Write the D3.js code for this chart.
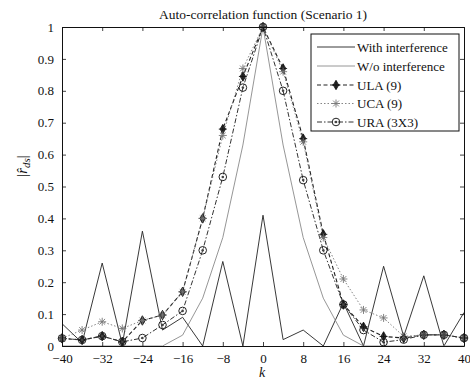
<!DOCTYPE html>
<html>
<head>
<meta charset="utf-8">
<script src="https://cdn.jsdelivr.net/npm/d3@7"></script>
<style>
  html, body { margin: 0; padding: 0; background: #fff; }
  svg { display: block; }
  text { font-family: "Liberation Serif", "DejaVu Serif", serif; fill: #111; }
</style>
</head>
<body>
<svg id="chart" width="470" height="383"></svg>
<script>
// Lag index k (step 4)
const lags = [-40, -36, -32, -28, -24, -20, -16, -12, -8, -4, 0, 4, 8, 12, 16, 20, 24, 28, 32, 36, 40];

// |r_ds| for each case
const withInterference = [0.07, 0.01, 0.26, 0.005, 0.36, 0.05, 0.09, 0.0, 0.265, 0.0, 0.41, 0.02, 0.05, 0.0, 0.135, 0.0, 0.25, 0.03, 0.22, 0.0, 0.105];
const withoutInterference = [0.0, 0.0, 0.0, 0.0, 0.0, 0.0, 0.034, 0.15, 0.34, 0.63, 1.0, 0.63, 0.34, 0.15, 0.034, 0.0, 0.0, 0.0, 0.0, 0.0, 0.0];
const ula9 = [0.024, 0.019, 0.031, 0.013, 0.08, 0.097, 0.17, 0.40, 0.68, 0.845, 1.0, 0.87, 0.65, 0.35, 0.13, 0.06, 0.03, 0.025, 0.035, 0.035, 0.025];
const uca9 = [0.024, 0.05, 0.076, 0.055, 0.08, 0.097, 0.17, 0.40, 0.66, 0.87, 1.0, 0.86, 0.64, 0.34, 0.21, 0.113, 0.088, 0.03, 0.035, 0.035, 0.025];
const ura3x3 = [0.024, 0.019, 0.031, 0.013, 0.025, 0.066, 0.11, 0.30, 0.53, 0.81, 1.0, 0.80, 0.52, 0.30, 0.13, 0.05, 0.012, 0.02, 0.035, 0.035, 0.025];

const xTicks = [-40, -32, -24, -16, -8, 0, 8, 16, 24, 32, 40];
const yTicks = [0, 0.1, 0.2, 0.3, 0.4, 0.5, 0.6, 0.7, 0.8, 0.9, 1];

const titleText = "Auto-correlation function (Scenario 1)";
const legendLabels = ["With interference", "W/o interference", "ULA (9)", "UCA (9)", "URA (3X3)"];

const serif = "'Liberation Serif', 'DejaVu Serif', serif";
const svg = d3.select("#chart");
const L = 62, R = 464, T = 27, B = 346;

const x = d3.scaleLinear().domain([-40, 40]).range([L, R]);
const y = d3.scaleLinear().domain([0, 1]).range([B, T]);

// series definitions: style + marker
const series = [
  { name: legendLabels[0], values: withInterference, color: "#222", width: 0.9, dash: null, marker: null },
  { name: legendLabels[1], values: withoutInterference, color: "#8a8a8a", width: 0.9, dash: null, marker: null },
  { name: legendLabels[2], values: ula9, color: "#222", width: 1.1, dash: "4,2.5", marker: "diamond" },
  { name: legendLabels[3], values: uca9, color: "#777", width: 0.9, dash: "1.5,2", marker: "asterisk" },
  { name: legendLabels[4], values: ura3x3, color: "#333", width: 1.0, dash: "5,2,1.5,2", marker: "circle" }
];

const line = d3.line().x(d => x(d[0])).y(d => y(d[1]));

const plot = svg.append("g");

// lines
series.forEach(s => {
  const pts = lags.map((k, i) => [k, s.values[i]]);
  plot.append("path")
    .datum(pts)
    .attr("d", line)
    .attr("fill", "none")
    .attr("stroke", s.color)
    .attr("stroke-width", s.width)
    .attr("stroke-dasharray", s.dash);
});

function drawMarker(g, type, cx, cy, color) {
  if (type === "diamond") {
    g.append("path")
      .attr("d", d3.symbol().type(d3.symbolDiamond).size(26)())
      .attr("transform", `translate(${cx},${cy})`)
      .attr("fill", "#333").attr("stroke", "#111").attr("stroke-width", 0.8);
    g.append("path")
      .attr("d", `M${cx - 4},${cy}H${cx + 4}M${cx},${cy - 4}V${cy + 4}`)
      .attr("stroke", "#111").attr("stroke-width", 0.9);
  } else if (type === "asterisk") {
    const r = 4, d = r * 0.72;
    g.append("path")
      .attr("d", `M${cx - r},${cy}H${cx + r}M${cx},${cy - r}V${cy + r}M${cx - d},${cy - d}L${cx + d},${cy + d}M${cx - d},${cy + d}L${cx + d},${cy - d}`)
      .attr("stroke", color).attr("stroke-width", 0.9).attr("fill", "none");
  } else if (type === "circle") {
    g.append("circle").attr("cx", cx).attr("cy", cy).attr("r", 3.8)
      .attr("fill", "none").attr("stroke", "#222").attr("stroke-width", 1);
    g.append("circle").attr("cx", cx).attr("cy", cy).attr("r", 1.3)
      .attr("fill", "#444");
  }
}

// markers
series.filter(s => s.marker).forEach(s => {
  const g = plot.append("g");
  lags.forEach((k, i) => drawMarker(g, s.marker, x(k), y(s.values[i]), s.color));
});

// axes box with inward ticks on all sides
const axG = svg.append("g");
const tickLen = 4;
const fmtY = d => d3.format("")(+d.toFixed(1));
axG.append("g").attr("transform", `translate(0,${B})`)
  .call(d3.axisBottom(x).tickValues(xTicks).tickSizeInner(-tickLen).tickSizeOuter(0).tickPadding(8).tickFormat(d3.format("d")));
axG.append("g").attr("transform", `translate(0,${T})`)
  .call(d3.axisTop(x).tickValues(xTicks).tickSizeInner(-tickLen).tickSizeOuter(0).tickFormat(""));
axG.append("g").attr("transform", `translate(${L},0)`)
  .call(d3.axisLeft(y).tickValues(yTicks).tickSizeInner(-tickLen).tickSizeOuter(0).tickPadding(8).tickFormat(fmtY));
axG.append("g").attr("transform", `translate(${R},0)`)
  .call(d3.axisRight(y).tickValues(yTicks).tickSizeInner(-tickLen).tickSizeOuter(0).tickFormat(""));
axG.selectAll("g").attr("font-family", serif).attr("font-size", 13);
axG.selectAll(".domain").attr("stroke", "#111").attr("stroke-width", 1);
axG.selectAll(".tick line").attr("stroke", "#111").attr("stroke-width", 0.8);
axG.selectAll(".tick text")
  .style("font-family", serif)
  .style("font-size", "13px")
  .attr("fill", "#111");

// title
svg.append("text").attr("x", (L + R) / 2).attr("y", 19)
  .attr("text-anchor", "middle").style("font-size", "13.5px").text(titleText);

// x label
svg.append("text").attr("x", (L + R) / 2 - 1).attr("y", 377)
  .attr("text-anchor", "middle").style("font-size", "14px").style("font-style", "italic").text("k");

// y label |r̂_ds|
const yl = svg.append("text")
  .attr("transform", `translate(27,166) rotate(-90)`)
  .attr("text-anchor", "middle").style("font-size", "15px");
yl.append("tspan").text("|");
yl.append("tspan").style("font-style", "italic").text("r\u0302");
yl.append("tspan").style("font-style", "italic").style("font-size", "11px").attr("dy", 3).text("ds");
yl.append("tspan").attr("dy", -3).text("|");

// legend
const lg = svg.append("g");
const lgX = 311, lgY = 34, lgW = 148, lgH = 97;
lg.append("rect").attr("x", lgX).attr("y", lgY).attr("width", lgW).attr("height", lgH)
  .attr("fill", "#fff").attr("stroke", "#111").attr("stroke-width", 1);
const rowY = [47, 66, 85, 103.5, 122];
series.forEach((s, i) => {
  const yy = rowY[i];
  lg.append("line").attr("x1", lgX + 6).attr("x2", lgX + 44).attr("y1", yy).attr("y2", yy)
    .attr("stroke", s.color).attr("stroke-width", s.width).attr("stroke-dasharray", s.dash);
  if (s.marker) drawMarker(lg, s.marker, lgX + 25, yy, s.color);
  lg.append("text").attr("x", lgX + 46).attr("y", yy + 4.5)
    .style("font-size", "13px").text(s.name);
});
</script>
</body>
</html>
